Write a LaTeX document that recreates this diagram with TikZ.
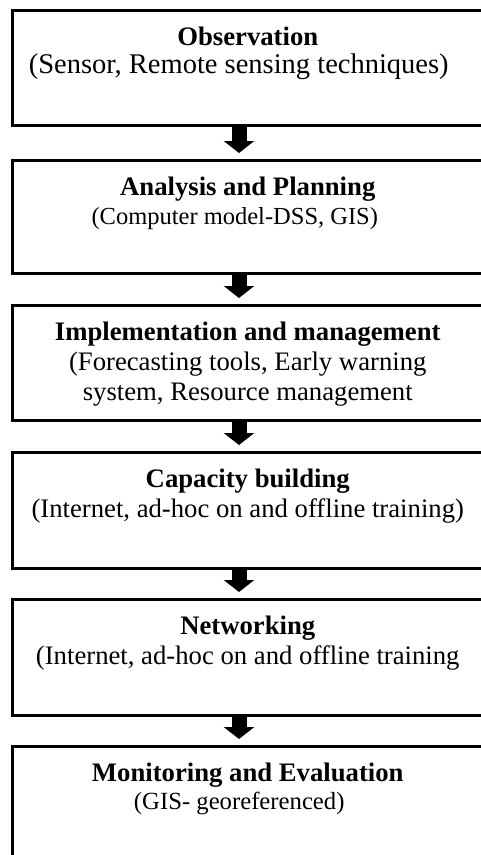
\documentclass[tikz,border=0pt]{standalone}
\usepackage{fontspec}
\setmainfont{Liberation Serif}
\usetikzlibrary{arrows.meta,calc}
\begin{document}
\begin{tikzpicture}[x=1pt,y=-1pt,
  box/.style={draw, line width=2.5pt, inner sep=0pt, anchor=north west, minimum width=471pt},
  ttl/.style={anchor=base, inner sep=0pt, font=\fontsize{26.7}{30}\selectfont\bfseries},
  sub/.style={anchor=base, inner sep=0pt, font=\fontsize{26.7}{30}\selectfont},
  flow/.style={line width=15pt, -{Triangle[width=30pt,length=12pt]}, shorten >=6pt}]
\useasboundingbox (0,0) rectangle (480,855);
\coordinate (ax) at (239,0);
% boxes
\node[box, minimum height=115pt] (b1) at (11,9) {};
\node[box, minimum height=113pt] (b2) at (11,159) {};
\node[box, minimum height=115pt] (b3) at (11,304) {};
\node[box, minimum height=116pt] (b4) at (11,451) {};
\node[box, minimum height=116pt] (b5) at (11,598) {};
\node[box, minimum height=125pt] (b6) at (11,745) {};
% texts
\node[ttl] (t1) at ($(b1.north)+(0,36)$) {Observation};
\node[sub, font=\fontsize{28.5}{30}\selectfont] (s1) at ($(b1.north)+(-9,64)$) {(Sensor, Remote sensing techniques)};
\node[ttl] (t2) at ($(b2.north)+(0,36)$) {Analysis and Planning};
\node[sub, font=\fontsize{24.5}{30}\selectfont] (s2) at ($(b2.north)+(-13,65)$) {(Computer model-DSS, GIS)};
\node[ttl] (t3) at ($(b3.north)+(0,36)$) {Implementation and management};
\node[sub] (s3a) at ($(b3.north)+(0,66)$) {(Forecasting tools, Early warning};
\node[sub] (s3b) at ($(b3.north)+(0,96)$) {system, Resource management};
\node[ttl] (t4) at ($(b4.north)+(0,36)$) {Capacity building};
\node[sub] (s4) at ($(b4.north)+(0,66)$) {(Internet, ad-hoc on and offline training)};
\node[ttl] (t5) at ($(b5.north)+(0,36)$) {Networking};
\node[sub] (s5) at ($(b5.north)+(0,66)$) {(Internet, ad-hoc on and offline training};
\node[ttl] (t6) at ($(b6.north)+(0,36)$) {Monitoring and Evaluation};
\node[sub, font=\fontsize{24.7}{30}\selectfont] (s6) at ($(b6.north)+(-8.5,64)$) {(GIS- georeferenced)};
% arrows
\draw[flow] (b1.south -| ax) -- (b2.north -| ax);
\draw[flow] (b2.south -| ax) -- (b3.north -| ax);
\draw[flow] (b3.south -| ax) -- (b4.north -| ax);
\draw[flow] (b4.south -| ax) -- (b5.north -| ax);
\draw[flow] (b5.south -| ax) -- (b6.north -| ax);
\end{tikzpicture}
\end{document}
